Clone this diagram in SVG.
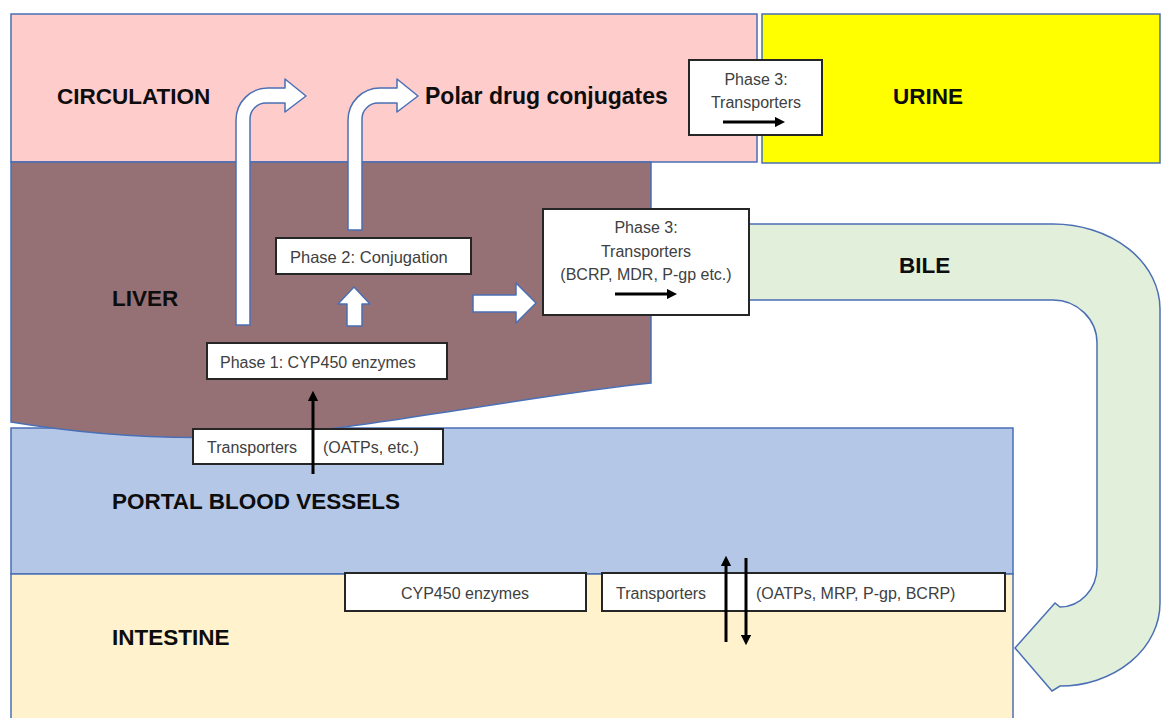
<svg xmlns="http://www.w3.org/2000/svg" width="1162" height="718" viewBox="0 0 1162 718">
<style>
.region{stroke:#4A6FB5;stroke-width:1.5}
.blk{fill:#fff;stroke:#4A6FB5;stroke-width:1.5;stroke-linejoin:round}
.box{fill:#fff;stroke:#262626;stroke-width:2}
.lbl{font-family:"Liberation Sans",Arial,sans-serif;font-weight:bold;font-size:22.5px;fill:#0d0d0d}
.txt{font-family:"Liberation Sans",Arial,sans-serif;font-size:16px;fill:#404040}
.mid{text-anchor:middle}
.arr{stroke:#000;stroke-width:3;fill:none;marker-end:url(#ah)}
</style>
<defs>
<marker id="ah" viewBox="0 0 10 10" refX="0" refY="5" markerWidth="3.4" markerHeight="3.4" orient="auto" markerUnits="strokeWidth">
<path d="M0,0 L10,5 L0,10 z" fill="#000"/>
</marker>
</defs>
<rect width="1162" height="718" fill="#fff"/>

<g id="circulation">
<rect class="region" x="11" y="14" width="746" height="148" fill="#FFCCCC"/>
<text class="lbl" x="57" y="104">CIRCULATION</text>
<text class="lbl" x="425" y="104" style="font-size:23px">Polar drug conjugates</text>
</g>

<g id="urine">
<rect class="region" x="762" y="14" width="398" height="149" fill="#FFFF00"/>
<text class="lbl" x="893" y="104">URINE</text>
</g>

<g id="bile">
<path class="region" fill="#E2EFDA" d="M745,224 H1053 A107,85 0 0 1 1160,309 V603 A100,83 0 0 1 1060,686 L1052,691 L1015,648 L1055,603 L1060,607 A37,40 0 0 0 1097,567 V343 A44,43 0 0 0 1053,300 H745 Z"/>
<text class="lbl" x="899" y="273">BILE</text>
</g>

<g id="portal">
<rect class="region" x="11" y="428" width="1002" height="146" fill="#B4C7E7"/>
<text class="lbl" x="112" y="509">PORTAL BLOOD VESSELS</text>
</g>

<g id="intestine">
<rect class="region" x="11" y="574" width="1002" height="150" fill="#FFF2CC"/>
<text class="lbl" x="112" y="645">INTESTINE</text>
</g>

<g id="liver">
<path class="region" fill="#957175" d="M11,162 H651 V383 C560,392 420,418 320,430 S120,440 11,422 Z"/>
<text class="lbl" x="112" y="306">LIVER</text>
</g>

<g id="flow-arrows">
<path class="blk" d="M236,325 V120 A32,32 0 0 1 268,88 H285 V79 L306,96 L285,112 V103 H266 A16,16 0 0 0 250,119 V325 Z"/>
<path class="blk" d="M348,230 V120 A32,32 0 0 1 380,88 H397 V79 L418,96 L397,112 V103 H378 A16,16 0 0 0 362,119 V230 Z"/>
<path class="blk" d="M347,326 V304 H338 L354,287 L370,304 H362 V326 Z"/>
<path class="blk" d="M473,295 H516 V283 L536,303 L516,323 V312 H473 Z"/>
</g>

<g id="phase3-urine">
<rect class="box" x="689" y="60" width="133" height="75"/>
<text class="txt mid" x="756" y="85">Phase 3:</text>
<text class="txt mid" x="756" y="108">Transporters</text>
</g>

<g id="phase3-bile">
<rect class="box" x="543" y="209" width="206" height="106"/>
<text class="txt mid" x="646" y="233">Phase 3:</text>
<text class="txt mid" x="646" y="257">Transporters</text>
<text class="txt mid" x="646" y="280">(BCRP, MDR, P-gp etc.)</text>
</g>

<g id="phase2">
<rect class="box" x="276" y="238" width="195" height="36"/>
<text class="txt" x="290" y="263" style="font-size:16.5px">Phase 2: Conjugation</text>
</g>

<g id="phase1">
<rect class="box" x="207" y="343" width="240" height="36"/>
<text class="txt" x="220" y="368">Phase 1: CYP450 enzymes</text>
</g>

<g id="liver-transporters">
<rect class="box" x="193" y="429" width="250" height="35"/>
<text class="txt" x="207" y="453">Transporters</text>
<text class="txt" x="323" y="453">(OATPs, etc.)</text>
</g>

<g id="intestine-cyp">
<rect class="box" x="345" y="573" width="241" height="38"/>
<text class="txt mid" x="465" y="599">CYP450 enzymes</text>
</g>

<g id="intestine-transporters">
<rect class="box" x="602" y="573" width="403" height="38"/>
<text class="txt" x="616" y="599">Transporters</text>
<text class="txt" x="756" y="599">(OATPs, MRP, P-gp, BCRP)</text>
</g>

<g id="connectors">
<line class="arr" x1="723" y1="122" x2="775" y2="122"/>
<line class="arr" x1="615" y1="294" x2="667" y2="294"/>
<line class="arr" x1="313" y1="474" x2="313" y2="401"/>
<line class="arr" x1="726" y1="642" x2="726" y2="566"/>
<line class="arr" x1="746" y1="558" x2="746" y2="635"/>
</g>
</svg>
